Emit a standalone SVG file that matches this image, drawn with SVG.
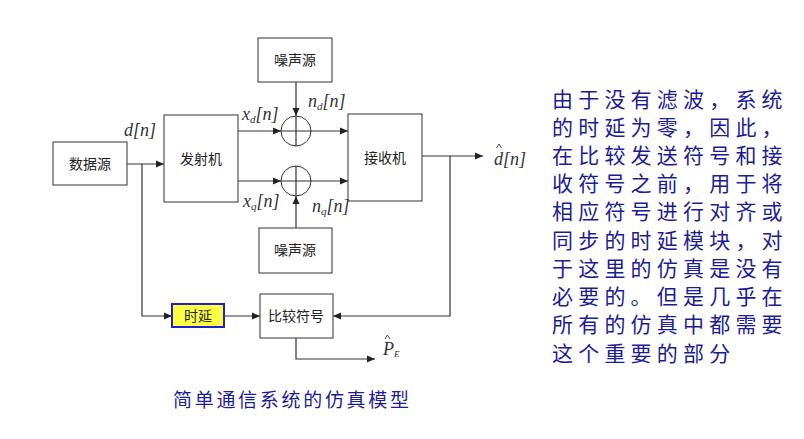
<svg xmlns="http://www.w3.org/2000/svg" width="804" height="439" viewBox="0 0 804 439">
<style>
.box{fill:#fff;stroke:#333;stroke-width:1}
.lbl{font-family:"Noto Sans CJK SC","Liberation Sans",sans-serif;font-size:14px;fill:#222;text-anchor:middle}
.ln{fill:none;stroke:#333;stroke-width:1.2}
.hat{fill:none;stroke:#333;stroke-width:0.9}
.m{font-family:"Liberation Serif","DejaVu Serif",serif;font-style:italic;font-size:18px;fill:#333}
.mb{font-family:"Liberation Serif","DejaVu Serif",serif;font-size:18px;fill:#333}
.sub{font-size:11px}
.blue{font-family:"Noto Sans CJK SC","Noto Sans CJK TC",sans-serif;fill:#1c1c96}
</style>
<defs>
<marker id="ar" markerWidth="8" markerHeight="8" refX="8" refY="4" orient="auto" markerUnits="userSpaceOnUse">
<path d="M0,0.5 L8,4 L0,7.5 z" fill="#222"/>
</marker>
</defs>
<rect width="804" height="439" fill="#fff"/>
<g id="connectors">
<path class="ln" d="M127,164 H164" marker-end="url(#ar)"/>
<path class="ln" d="M142,164 V316 H172" marker-end="url(#ar)"/>
<path class="ln" d="M238,131 H281" marker-end="url(#ar)"/>
<path class="ln" d="M238,181 H281" marker-end="url(#ar)"/>
<path class="ln" d="M296,82 V116" marker-end="url(#ar)"/>
<path class="ln" d="M296,228 V196" marker-end="url(#ar)"/>
<path class="ln" d="M311,131 H348" marker-end="url(#ar)"/>
<path class="ln" d="M311,181 H348" marker-end="url(#ar)"/>
<path class="ln" d="M422,156 H483" marker-end="url(#ar)"/>
<path class="ln" d="M450,156 V316 H333" marker-end="url(#ar)"/>
<path class="ln" d="M224,316 H260" marker-end="url(#ar)"/>
<path class="ln" d="M296,338 V359 H375" marker-end="url(#ar)"/>
</g>
<g id="datasrc"><rect class="box" x="53" y="142" width="74" height="43"/><text class="lbl" x="90" y="169">数据源</text></g>
<g id="tx"><rect class="box" x="164" y="115" width="74" height="87"/><text class="lbl" x="201" y="164">发射机</text></g>
<g id="noise1"><rect class="box" x="258" y="38" width="74" height="44"/><text class="lbl" x="295" y="65">噪声源</text></g>
<g id="noise2"><rect class="box" x="259" y="228" width="73" height="45"/><text class="lbl" x="295" y="255">噪声源</text></g>
<g id="sum1"><circle class="box" cx="296" cy="131" r="15"/><path class="ln" d="M281,131 H311 M296,116 V146"/></g>
<g id="sum2"><circle class="box" cx="296" cy="181" r="15"/><path class="ln" d="M281,181 H311 M296,166 V196"/></g>
<g id="rx"><rect class="box" x="348" y="114" width="74" height="87"/><text class="lbl" x="385" y="163">接收机</text></g>
<g id="delay"><rect x="172" y="304" width="52" height="23" fill="#ffff44" stroke="#2222cc" stroke-width="2"/><text class="lbl" x="198" y="321">时延</text></g>
<g id="compare"><rect class="box" x="260" y="294" width="73" height="44"/><text class="lbl" x="296" y="321">比较符号</text></g>
<g id="labels">
<text class="m" x="124" y="136">d<tspan class="mb">[</tspan>n<tspan class="mb">]</tspan></text>
<text class="m" x="242" y="120">x<tspan class="sub" dy="3">d</tspan><tspan class="mb" dy="-3">[</tspan>n<tspan class="mb">]</tspan></text>
<text class="m" x="308" y="107">n<tspan class="sub" dy="3">d</tspan><tspan class="mb" dy="-3">[</tspan>n<tspan class="mb">]</tspan></text>
<text class="m" x="243" y="207">x<tspan class="sub" dy="3">q</tspan><tspan class="mb" dy="-3">[</tspan>n<tspan class="mb">]</tspan></text>
<text class="m" x="312" y="212">n<tspan class="sub" dy="3">q</tspan><tspan class="mb" dy="-3">[</tspan>n<tspan class="mb">]</tspan></text>
<text class="m" x="494" y="165">d<tspan class="mb">[</tspan>n<tspan class="mb">]</tspan></text>
<path class="hat" d="M496.5,148 L499,144 L501.5,148"/>
<text class="m" x="383" y="355">P<tspan class="sub" dy="2" style="font-size:9px">E</tspan></text>
<path class="hat" d="M385,339 L387.5,335 L390,339"/>
</g>
<g id="caption"><text class="blue" x="173" y="407" style="font-size:19px;letter-spacing:2.7px">简单通信系统的仿真模型</text></g>
<g id="note" class="blue" style="font-size:21px;letter-spacing:5.2px">
<text x="552" y="107">由于没有滤波，系统</text>
<text x="552" y="135">的时延为零，因此，</text>
<text x="552" y="163">在比较发送符号和接</text>
<text x="552" y="191">收符号之前，用于将</text>
<text x="552" y="219">相应符号进行对齐或</text>
<text x="552" y="248">同步的时延模块，对</text>
<text x="552" y="276">于这里的仿真是没有</text>
<text x="552" y="304">必要的。但是几乎在</text>
<text x="552" y="332">所有的仿真中都需要</text>
<text x="552" y="361">这个重要的部分</text>
</g>
</svg>
